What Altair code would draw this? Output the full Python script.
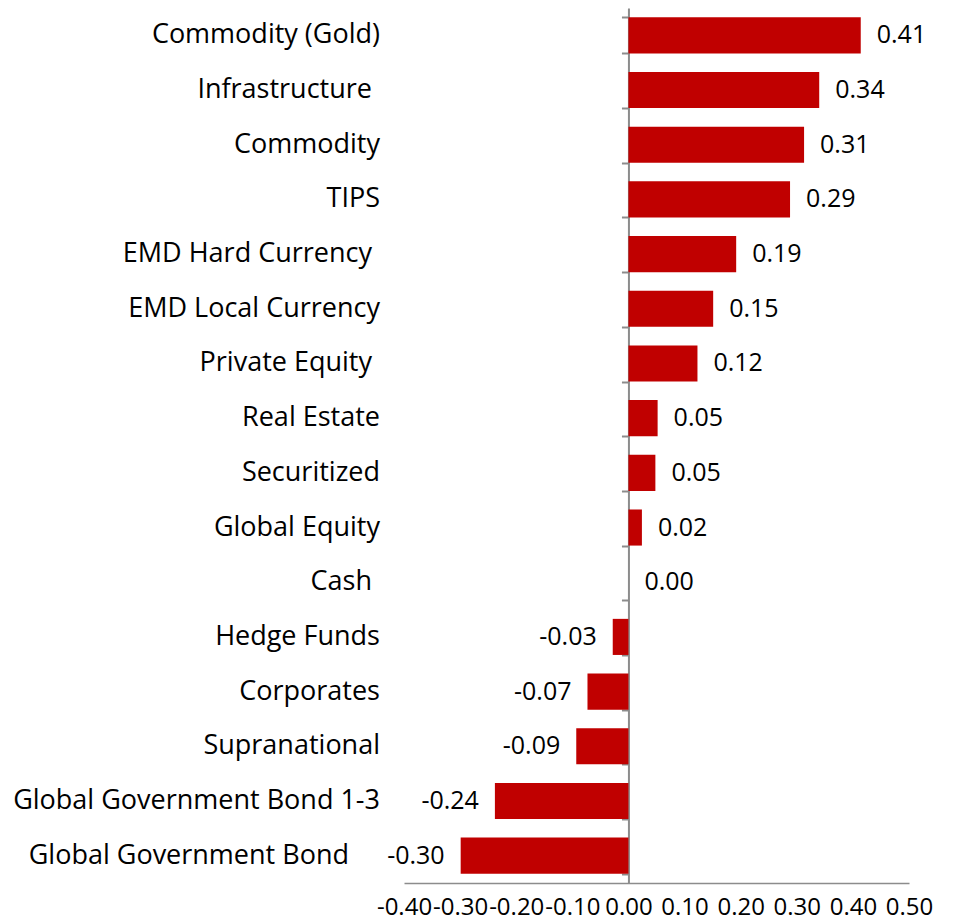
import altair as alt
import pandas as pd

categories = ["Commodity (Gold)", "Infrastructure", "Commodity", "TIPS",
              "EMD Hard Currency", "EMD Local Currency", "Private Equity",
              "Real Estate", "Securitized", "Global Equity", "Cash",
              "Hedge Funds", "Corporates", "Supranational",
              "Global Government Bond 1-3", "Global Government Bond"]
values = [0.414, 0.34, 0.313, 0.288, 0.192, 0.151, 0.123, 0.052, 0.048,
          0.024, 0.0, -0.028, -0.073, -0.093, -0.238, -0.299]
x_ticks = [-0.4, -0.3, -0.2, -0.1, 0.0, 0.1, 0.2, 0.3, 0.4, 0.5]

df = pd.DataFrame({"cat": categories, "value": values})
df["label"] = [f"{v:.2f}" for v in values]

FONT = "Open Sans"
W, H = 505, 875
XMIN, XMAX = -0.4, 0.5
zero_offset = -(0 - XMIN) / (XMAX - XMIN) * W

# category names drawn with a trailing space in the original (label shifts, px)
one_space = ["Infrastructure", "EMD Hard Currency", "Private Equity", "Cash"]
wide_space = ["Global Government Bond"]

x_enc = alt.X("value:Q",
              scale=alt.Scale(domain=[XMIN, XMAX], nice=False, zero=False),
              axis=alt.Axis(values=x_ticks, title=None, grid=False, ticks=False,
                            domainColor="#8c8c8c", domainWidth=1.5,
                            labelFontSize=24, labelColor="#000000", labelFont=FONT,
                            labelPadding=12, labelOverlap=False, labelFlush=False,
                            labelExpr="replace(format(datum.value, '.2f'), '\u2212', '-')"))
y_enc = alt.Y("cat:N", sort=categories,
              scale=alt.Scale(paddingInner=0.34, paddingOuter=0.17),
              axis=alt.Axis(title=None, orient="left", offset=zero_offset,
                            domainColor="#8c8c8c", domainWidth=2,
                            tickColor="#8c8c8c", tickWidth=2, tickSize=7,
                            tickBand="extent", labels=False))
y_plain = alt.Y("cat:N", sort=categories)

base = alt.Chart(df)
bars = base.mark_bar(color="#C00000").encode(x=x_enc, y=y_enc)

txt = dict(baseline="middle", fontSize=25, font=FONT, color="#000000")
pos = base.transform_filter("datum.value >= 0").mark_text(align="left", dx=16, **txt).encode(
    x="value:Q", y=y_plain, text="label:N")
neg = base.transform_filter("datum.value < 0").mark_text(align="right", dx=-16, **txt).encode(
    x="value:Q", y=y_plain, text="label:N")

cat_txt = dict(baseline="middle", fontSize=27, font=FONT, color="#000000", align="right")
cat_normal = base.transform_filter(
    alt.FieldOneOfPredicate(field="cat", oneOf=one_space + wide_space).__invert__()
).mark_text(**cat_txt).encode(x=alt.value(-24), y=y_plain, text="cat:N")
cat_one = base.transform_filter(
    alt.FieldOneOfPredicate(field="cat", oneOf=one_space)
).mark_text(**cat_txt).encode(x=alt.value(-32), y=y_plain, text="cat:N")
cat_wide = base.transform_filter(
    alt.FieldOneOfPredicate(field="cat", oneOf=wide_space)
).mark_text(**cat_txt).encode(x=alt.value(-55), y=y_plain, text="cat:N")

chart = alt.layer(bars, pos, neg, cat_normal, cat_one, cat_wide).properties(
    width=W, height=H,
    autosize=alt.AutoSizeParams(type="none"),
    padding={"left": 396, "top": 0, "right": 43, "bottom": 39},
).configure_view(stroke=None)

chart.save("out.html", embed_options={"renderer": "svg", "actions": False})
